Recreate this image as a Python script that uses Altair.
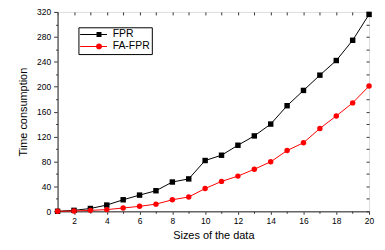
import altair as alt
import pandas as pd

# ---- data ----
sizes = list(range(1, 21))
fpr = [0, 1.5, 4.5, 10, 18.5, 26, 33, 47, 52, 81.5, 90, 106, 121, 140, 169.5, 194, 218.5, 242, 274.5, 316]
fa_fpr = [0, 0.5, 1.5, 2.7, 5.3, 8, 11.5, 18.5, 23, 36.5, 48, 56.5, 67.5, 79.5, 97.5, 110, 133, 153, 174, 201]
series_names = ["FPR", "FA-FPR"]
series_colors = ["#000000", "#ff0000"]
x_major = [2, 4, 6, 8, 10, 12, 14, 16, 18, 20]
x_minor = [1, 3, 5, 7, 9, 11, 13, 15, 17, 19]
y_major = [0, 40, 80, 120, 160, 200, 240, 280, 320]
y_minor = [20, 60, 100, 140, 180, 220, 260, 300]
y_all = list(range(0, 321, 20))

df = pd.DataFrame({
    "size": sizes * 2,
    "value": fpr + fa_fpr,
    "series": ["FPR"] * len(sizes) + ["FA-FPR"] * len(sizes),
})
legend_df = pd.DataFrame({"series": series_names})

FONT = "Liberation Sans"
legend_paths = [
    "M-2.7,-0.1H2.7V0.1H-2.7Z M0.6,-0.5H1.6V0.5H0.6Z",
    "M-2.7,-0.1H2.7V0.1H-2.7Z M1.7,0A0.6,0.6 0 1,1 0.5,0A0.6,0.6 0 1,1 1.7,0Z",
]

xscale = alt.Scale(domain=[1, 20], nice=False, zero=False)
yscale = alt.Scale(domain=[0, 320], nice=False)
color_scale = alt.Scale(domain=series_names, range=series_colors)

common = dict(grid=False, labelFont=FONT, titleFont=FONT, labelColor="black",
              titleColor="black", tickColor="#333333", titleFontWeight="normal")

base = alt.Chart(df)
fpr_data = base.transform_filter(alt.datum.series == "FPR")
fa_data = base.transform_filter(alt.datum.series == "FA-FPR")

fpr_line = fpr_data.mark_line(strokeWidth=1, color=series_colors[0]).encode(
    x=alt.X("size:Q", scale=xscale, title="Sizes of the data",
            axis=alt.Axis(orient="bottom", values=x_major, tickSize=3, labelFontSize=8.5,
                          titleFontSize=11, domainColor="#666666", domainWidth=1.5,
                          labelPadding=2, titlePadding=5, labelFlush=False, **common)),
    y=alt.Y("value:Q", scale=yscale, title="Time consumption",
            axis=alt.Axis(orient="left", values=y_major, tickSize=4, labelFontSize=8.5,
                          titleFontSize=11, domainColor="#666666", domainWidth=1.5,
                          labelPadding=3, titlePadding=8, labelFlush=False, **common)),
)

fa_line = fa_data.mark_line(strokeWidth=1, color=series_colors[1]).encode(
    x=alt.X("size:Q", scale=xscale, title=None,
            axis=alt.Axis(orient="bottom", values=x_minor, tickSize=2, labels=False,
                          domain=False, **common)),
    y=alt.Y("value:Q", scale=yscale, title=None,
            axis=alt.Axis(orient="left", values=y_minor, tickSize=2, labels=False,
                          domain=False, **common)),
)

squares = fpr_data.mark_point(
    shape="square", filled=True, size=30, color=series_colors[0], opacity=1
).encode(
    x=alt.X("size:Q", scale=xscale, title=None,
            axis=alt.Axis(orient="top", offset=-3, values=sizes, tickSize=3, labels=False,
                          domain=False, **common)),
    y=alt.Y("value:Q", scale=yscale, title=None,
            axis=alt.Axis(orient="right", offset=-3, values=y_all, tickSize=3, labels=False,
                          domain=False, **common)),
)

circles = fa_data.mark_point(
    shape="circle", filled=True, size=30, color=series_colors[1], opacity=1
).encode(
    x=alt.X("size:Q", scale=xscale, axis=None),
    y=alt.Y("value:Q", scale=yscale, axis=None),
)

legend_def = alt.Legend(
    title=None, orient="none", legendX=21, legendY=15.5, direction="vertical",
    symbolSize=100, labelFontSize=10.5, labelFont=FONT, labelColor="black",
    strokeColor="black", fillColor="white", padding=2, rowPadding=1,
    symbolOffset=8, labelOffset=14, symbolStrokeWidth=0, symbolOpacity=1, cornerRadius=0,
)

legend_layer = alt.Chart(legend_df).mark_point(filled=True, opacity=0, size=100).encode(
    color=alt.Color("series:N", scale=color_scale, legend=legend_def),
    shape=alt.Shape("series:N", scale=alt.Scale(domain=series_names, range=legend_paths),
                    legend=legend_def),
)

chart = alt.layer(fpr_line, fa_line, squares, circles, legend_layer).resolve_axis(
    x="independent", y="independent"
).properties(
    width=314, height=201,
    autosize=alt.AutoSizeParams(type="none"),
    padding={"left": 50, "top": 3, "right": 8, "bottom": 30},
).configure_view(stroke="black", strokeWidth=1).configure(background="white")

chart.save("out.html", embed_options={"renderer": "svg", "actions": False})
